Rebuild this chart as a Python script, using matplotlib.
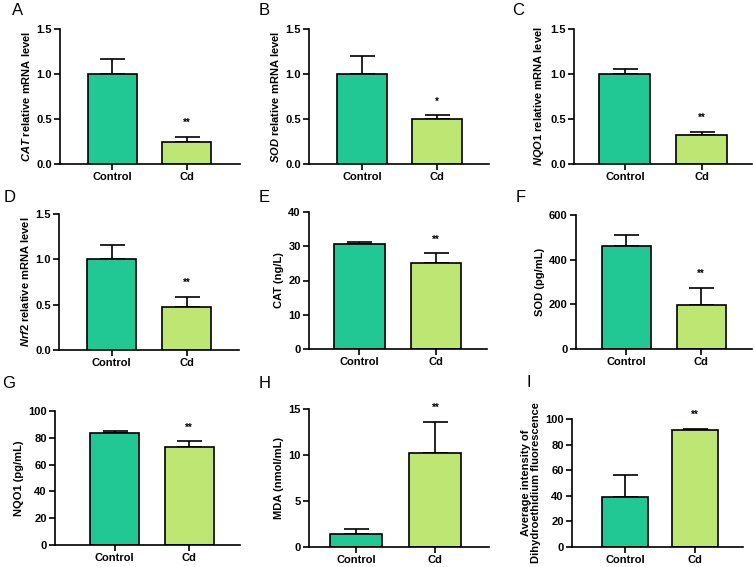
import matplotlib
matplotlib.use("Agg")
import matplotlib.pyplot as plt

plt.rcParams['font.family'] = ['Liberation Sans', 'DejaVu Sans']
plt.rcParams['mathtext.fontset'] = 'custom'
plt.rcParams['mathtext.it'] = 'Liberation Sans:italic:bold'
plt.rcParams['mathtext.rm'] = 'Liberation Sans:bold'
plt.rcParams['mathtext.bf'] = 'Liberation Sans:bold'

groups = ["Control", "Cd"]
letters = ["A", "B", "C", "D", "E", "F", "G", "H", "I"]
ylabels = [
    r"$\mathit{CAT}$ relative mRNA level",
    r"$\mathit{SOD}$ relative mRNA level",
    r"$\mathit{NQO1}$ relative mRNA level",
    r"$\mathit{Nrf2}$ relative mRNA level",
    "CAT (ng/L)",
    "SOD (pg/mL)",
    "NQO1 (pg/mL)",
    "MDA (nmol/mL)",
    "Average intensity of\nDihydroethidium fluorescence",
]
means = [
    [1.00, 0.25],
    [1.00, 0.50],
    [1.00, 0.32],
    [1.00, 0.47],
    [30.6, 25.0],
    [460, 198],
    [83.3, 73.4],
    [1.42, 10.2],
    [39.0, 91.1],
]
errors = [
    [0.17, 0.05],
    [0.20, 0.04],
    [0.06, 0.035],
    [0.16, 0.12],
    [0.7, 2.9],
    [51, 77],
    [1.8, 4.0],
    [0.51, 3.38],
    [17.3, 1.0],
]
stars = ["**", "*", "**", "**", "**", "**", "**", "**", "**"]
ymax = [1.5, 1.5, 1.5, 1.5, 40, 600, 100, 15, 100]
yticks = [
    [0.0, 0.5, 1.0, 1.5],
    [0.0, 0.5, 1.0, 1.5],
    [0.0, 0.5, 1.0, 1.5],
    [0.0, 0.5, 1.0, 1.5],
    [0, 10, 20, 30, 40],
    [0, 200, 400, 600],
    [0, 20, 40, 60, 80, 100],
    [0, 5, 10, 15],
    [0, 20, 40, 60, 80, 100],
]
ytickfmt = ["{:.1f}"] * 4 + ["{:.0f}"] * 5

colors = ["#22C893", "#BEE673"]

W, H = 754, 567
fig = plt.figure(figsize=(W / 100, H / 100), dpi=100)

# axes boxes in pixels: left, right, top, bottom
boxes = [
    (60, 240, 29, 164),
    (309, 489, 29, 164),
    (574, 752, 29, 164),
    (59, 239, 214, 350),
    (309, 487, 212, 349),
    (576, 752, 215, 349),
    (55, 240, 411, 545),
    (309, 489, 409, 547),
    (572, 743, 419, 547),
]
xleft = [-0.70, -0.70, -0.66, -0.70, -0.66, -0.67, -0.80, -0.60, -0.76]
spacing = [74.5, 75.5, 77, 75, 76.5, 75, 74.5, 79, 70]
letter_pos = [(12, 3), (259, 3), (512, 3), (4, 190), (259, 190), (516, 190),
              (2, 376), (259, 376), (526, 375)]

for i in range(9):
    l, r, t, b = boxes[i]
    ax = fig.add_axes([l / W, 1 - b / H, (r - l) / W, (b - t) / H])
    x = [0, 1]
    ax.bar(x, means[i], width=0.66, color=colors, edgecolor="black",
           linewidth=1.2, zorder=2)
    ax.errorbar(x, means[i], yerr=[[0, 0], errors[i]], fmt="none",
                ecolor="black", elinewidth=1.2, capsize=9, capthick=1.2, zorder=1)
    ax.annotate(stars[i], (1, means[i][1] + errors[i][1]), xytext=(0, 10),
                textcoords="offset points", ha="center", va="center",
                fontsize=7, fontweight="bold")
    lo = xleft[i]
    hi = lo + (r - l) / spacing[i]
    ax.set_xlim(lo, hi)
    ax.set_ylim(0, ymax[i])
    ax.set_xticks(x)
    ax.set_xticklabels(groups, fontsize=8, fontweight="bold")
    ax.set_yticks(yticks[i])
    ax.set_yticklabels([ytickfmt[i].format(v) for v in yticks[i]],
                       fontsize=8, fontweight="bold")
    ax.set_ylabel(ylabels[i], fontsize=8, fontweight="bold", labelpad=3,
                  linespacing=1.0)
    for s in ["top", "right"]:
        ax.spines[s].set_visible(False)
    for s in ["left", "bottom"]:
        ax.spines[s].set_linewidth(1.2)
    ax.tick_params(axis="both", width=1.2, length=4, pad=2)
    ax.margins(y=0)
    lx, ly = letter_pos[i]
    fig.text(lx / W, 1 - ly / H, letters[i], fontsize=12, ha="left", va="top")

fig.savefig("out.png", dpi=100)
